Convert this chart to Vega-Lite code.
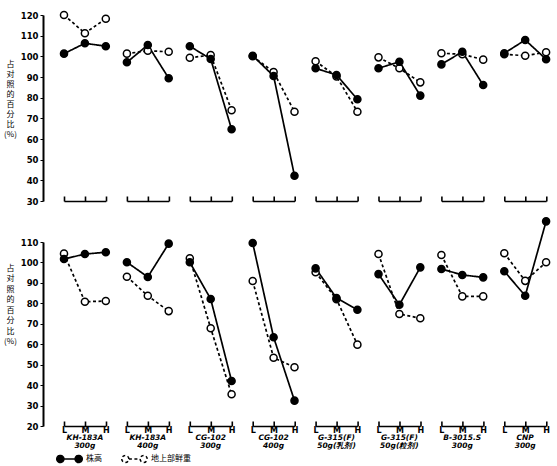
{
"$schema": "https://vega.github.io/schema/vega-lite/v6.json",
"padding": {"left": 3, "top": 8, "right": 0, "bottom": 0},
"background": "white",
"spacing": 8,
"config": {
  "view": {"stroke": null},
  "font": "DejaVu Sans",
  "axis": {"grid": false, "domainColor": "black", "tickColor": "black", "labelColor": "black", "titleColor": "black"},
  "legend": {"orient": "none", "legendX": -8, "legendY": 430, "direction": "horizontal", "title": null, "symbolType": "M-1,0 A0.28,0.28 0 1,0 -0.44,0 A0.28,0.28 0 1,0 -1,0 Z M-0.44,0 L0.44,0 M0.44,0 A0.28,0.28 0 1,0 1,0 A0.28,0.28 0 1,0 0.44,0 Z", "symbolSize": 650, "symbolStrokeColor": "black", "symbolStrokeWidth": 1.5, "labelFont": "Noto Sans CJK SC", "labelFontSize": 8, "columnPadding": 16, "labelOffset": 3}
},
"datasets": {
"top": [
{"g":"KH-183A|300g","lv":"L","s":"地上部鲜重","v":120},{"g":"KH-183A|300g","lv":"M","s":"地上部鲜重","v":111.2},{"g":"KH-183A|300g","lv":"H","s":"地上部鲜重","v":118.2},
{"g":"KH-183A|400g","lv":"L","s":"地上部鲜重","v":101.3},{"g":"KH-183A|400g","lv":"M","s":"地上部鲜重","v":102.7},{"g":"KH-183A|400g","lv":"H","s":"地上部鲜重","v":102.2},
{"g":"CG-102|300g","lv":"L","s":"地上部鲜重","v":99.3},{"g":"CG-102|300g","lv":"M","s":"地上部鲜重","v":100.6},{"g":"CG-102|300g","lv":"H","s":"地上部鲜重","v":73.9},
{"g":"CG-102|400g","lv":"L","s":"地上部鲜重","v":100},{"g":"CG-102|400g","lv":"M","s":"地上部鲜重","v":92.4},{"g":"CG-102|400g","lv":"H","s":"地上部鲜重","v":73.2},
{"g":"G-315(F)|50g(乳剂)","lv":"L","s":"地上部鲜重","v":97.6},{"g":"G-315(F)|50g(乳剂)","lv":"M","s":"地上部鲜重","v":90.3},{"g":"G-315(F)|50g(乳剂)","lv":"H","s":"地上部鲜重","v":73.2},
{"g":"G-315(F)|50g(粒剂)","lv":"L","s":"地上部鲜重","v":99.5},{"g":"G-315(F)|50g(粒剂)","lv":"M","s":"地上部鲜重","v":94.2},{"g":"G-315(F)|50g(粒剂)","lv":"H","s":"地上部鲜重","v":87.4},
{"g":"B-3015.S|300g","lv":"L","s":"地上部鲜重","v":101.5},{"g":"B-3015.S|300g","lv":"M","s":"地上部鲜重","v":101},{"g":"B-3015.S|300g","lv":"H","s":"地上部鲜重","v":98.4},
{"g":"CNP|300g","lv":"L","s":"地上部鲜重","v":101},{"g":"CNP|300g","lv":"M","s":"地上部鲜重","v":100.3},{"g":"CNP|300g","lv":"H","s":"地上部鲜重","v":102},
{"g":"KH-183A|300g","lv":"L","s":"株高","v":101.3},{"g":"KH-183A|300g","lv":"M","s":"株高","v":106.3},{"g":"KH-183A|300g","lv":"H","s":"株高","v":104.9},
{"g":"KH-183A|400g","lv":"L","s":"株高","v":97.1},{"g":"KH-183A|400g","lv":"M","s":"株高","v":105.5},{"g":"KH-183A|400g","lv":"H","s":"株高","v":89.4},
{"g":"CG-102|300g","lv":"L","s":"株高","v":104.9},{"g":"CG-102|300g","lv":"M","s":"株高","v":98.7},{"g":"CG-102|300g","lv":"H","s":"株高","v":64.7},
{"g":"CG-102|400g","lv":"L","s":"株高","v":100.3},{"g":"CG-102|400g","lv":"M","s":"株高","v":90.5},{"g":"CG-102|400g","lv":"H","s":"株高","v":42.2},
{"g":"G-315(F)|50g(乳剂)","lv":"L","s":"株高","v":94.2},{"g":"G-315(F)|50g(乳剂)","lv":"M","s":"株高","v":91.0},{"g":"G-315(F)|50g(乳剂)","lv":"H","s":"株高","v":79.2},
{"g":"G-315(F)|50g(粒剂)","lv":"L","s":"株高","v":94.2},{"g":"G-315(F)|50g(粒剂)","lv":"M","s":"株高","v":97.4},{"g":"G-315(F)|50g(粒剂)","lv":"H","s":"株高","v":81.0},
{"g":"B-3015.S|300g","lv":"L","s":"株高","v":96.1},{"g":"B-3015.S|300g","lv":"M","s":"株高","v":102.2},{"g":"B-3015.S|300g","lv":"H","s":"株高","v":86.1},
{"g":"CNP|300g","lv":"L","s":"株高","v":101.5},{"g":"CNP|300g","lv":"M","s":"株高","v":107.9},{"g":"CNP|300g","lv":"H","s":"株高","v":98.6}
],
"bottom": [
{"g":"KH-183A|300g","lv":"L","s":"地上部鲜重","v":104.3},{"g":"KH-183A|300g","lv":"M","s":"地上部鲜重","v":80.8},{"g":"KH-183A|300g","lv":"H","s":"地上部鲜重","v":81.1},
{"g":"KH-183A|400g","lv":"L","s":"地上部鲜重","v":93},{"g":"KH-183A|400g","lv":"M","s":"地上部鲜重","v":83.7},{"g":"KH-183A|400g","lv":"H","s":"地上部鲜重","v":76.2},
{"g":"CG-102|300g","lv":"L","s":"地上部鲜重","v":102},{"g":"CG-102|300g","lv":"M","s":"地上部鲜重","v":67.8},{"g":"CG-102|300g","lv":"H","s":"地上部鲜重","v":35.5},
{"g":"CG-102|400g","lv":"L","s":"地上部鲜重","v":90.9},{"g":"CG-102|400g","lv":"M","s":"地上部鲜重","v":53.4},{"g":"CG-102|400g","lv":"H","s":"地上部鲜重","v":48.7},
{"g":"G-315(F)|50g(乳剂)","lv":"L","s":"地上部鲜重","v":95.2},{"g":"G-315(F)|50g(乳剂)","lv":"M","s":"地上部鲜重","v":82},{"g":"G-315(F)|50g(乳剂)","lv":"H","s":"地上部鲜重","v":59.8},
{"g":"G-315(F)|50g(粒剂)","lv":"L","s":"地上部鲜重","v":104.1},{"g":"G-315(F)|50g(粒剂)","lv":"M","s":"地上部鲜重","v":74.8},{"g":"G-315(F)|50g(粒剂)","lv":"H","s":"地上部鲜重","v":72.7},
{"g":"B-3015.S|300g","lv":"L","s":"地上部鲜重","v":103.6},{"g":"B-3015.S|300g","lv":"M","s":"地上部鲜重","v":83.4},{"g":"B-3015.S|300g","lv":"H","s":"地上部鲜重","v":83.4},
{"g":"CNP|300g","lv":"L","s":"地上部鲜重","v":104.5},{"g":"CNP|300g","lv":"M","s":"地上部鲜重","v":91},{"g":"CNP|300g","lv":"H","s":"地上部鲜重","v":100.1},
{"g":"KH-183A|300g","lv":"L","s":"株高","v":101.7},{"g":"KH-183A|300g","lv":"M","s":"株高","v":104.1},{"g":"KH-183A|300g","lv":"H","s":"株高","v":105},
{"g":"KH-183A|400g","lv":"L","s":"株高","v":100.1},{"g":"KH-183A|400g","lv":"M","s":"株高","v":92.9},{"g":"KH-183A|400g","lv":"H","s":"株高","v":109.2},
{"g":"CG-102|300g","lv":"L","s":"株高","v":100.1},{"g":"CG-102|300g","lv":"M","s":"株高","v":82.1},{"g":"CG-102|300g","lv":"H","s":"株高","v":42},
{"g":"CG-102|400g","lv":"L","s":"株高","v":109.5},{"g":"CG-102|400g","lv":"M","s":"株高","v":63.4},{"g":"CG-102|400g","lv":"H","s":"株高","v":32.4},
{"g":"G-315(F)|50g(乳剂)","lv":"L","s":"株高","v":97.1},{"g":"G-315(F)|50g(乳剂)","lv":"M","s":"株高","v":82.6},{"g":"G-315(F)|50g(乳剂)","lv":"H","s":"株高","v":76.9},
{"g":"G-315(F)|50g(粒剂)","lv":"L","s":"株高","v":94.3},{"g":"G-315(F)|50g(粒剂)","lv":"M","s":"株高","v":79.3},{"g":"G-315(F)|50g(粒剂)","lv":"H","s":"株高","v":97.6},
{"g":"B-3015.S|300g","lv":"L","s":"株高","v":96.8},{"g":"B-3015.S|300g","lv":"M","s":"株高","v":93.9},{"g":"B-3015.S|300g","lv":"H","s":"株高","v":92.7},
{"g":"CNP|300g","lv":"L","s":"株高","v":95.7},{"g":"CNP|300g","lv":"M","s":"株高","v":83.7},{"g":"CNP|300g","lv":"H","s":"株高","v":120.1}
]
},
"vconcat": [
{
  "data": {"name": "top"},
  "bounds": "flush",
  "facet": {"column": {"field": "g", "type": "nominal", "sort": ["KH-183A|300g","KH-183A|400g","CG-102|300g","CG-102|400g","G-315(F)|50g(乳剂)","G-315(F)|50g(粒剂)","B-3015.S|300g","CNP|300g"], "title": null, "header": {"labels": false, "title": null}}},
  "spacing": 20.9,
  "spec": {
    "width": 41.8, "height": 186,
    "encoding": {
      "x": {"field": "lv", "type": "ordinal", "sort": ["L","M","H"], "scale": {"type": "point", "padding": 0}, "axis": {"title": null, "labels": false, "domainWidth": 1.6, "tickSize": -5, "tickWidth": 1.6}},
      "y": {"field": "v", "type": "quantitative", "scale": {"domain": [30, 120], "nice": false, "zero": false}, "axis": {"title": ["占","对","照","的","百","分","比","(%)"], "titleAngle": 0, "titleFontSize": 8, "titleFont": "Noto Sans CJK SC", "titleFontWeight": "normal", "titleLineHeight": 10, "titleX": -33, "titleY": 45, "titleBaseline": "top", "titleAlign": "center", "values": [30,40,50,60,70,80,90,100,110,120], "labelOverlap": false, "offset": 21, "domainWidth": 2, "tickSize": 3, "labelFontSize": 8.5, "labelFontWeight": "bold", "labelPadding": 2}}
    },
    "layer": [
      {"mark": {"type": "line", "color": "black", "strokeWidth": 1.7},
       "encoding": {
         "strokeDash": {"field": "s", "type": "nominal", "scale": {"domain": ["株高","地上部鲜重"], "range": [[1,0],[3,2.5]]}}
       }},
      {"mark": {"type": "point", "filled": true, "stroke": "black", "strokeWidth": 1.5, "size": 50, "opacity": 1},
       "encoding": {
         "fill": {"field": "s", "type": "nominal", "scale": {"domain": ["株高","地上部鲜重"], "range": ["black","white"]}}
       }}
    ]
  }
},
{
  "data": {"name": "bottom"},
  "bounds": "flush",
  "facet": {"column": {"field": "g", "type": "nominal", "sort": ["KH-183A|300g","KH-183A|400g","CG-102|300g","CG-102|400g","G-315(F)|50g(乳剂)","G-315(F)|50g(粒剂)","B-3015.S|300g","CNP|300g"], "title": null, "header": {"labelOrient": "bottom", "labelExpr": "split(datum.value, '|')", "labelFontSize": 7.5, "labelFontStyle": "italic", "labelFontWeight": "bold", "labelFont": "DejaVu Sans", "labelPadding": 0, "labelLineHeight": 8, "title": null}}},
  "spacing": 20.9,
  "spec": {
    "width": 41.8, "height": 184,
    "encoding": {
      "x": {"field": "lv", "type": "ordinal", "sort": ["L","M","H"], "scale": {"type": "point", "padding": 0}, "axis": {"title": null, "labels": true, "labelAngle": 0, "labelFontSize": 8, "labelFontWeight": "bold", "labelPadding": 5, "domainWidth": 1.6, "tickSize": -5, "tickWidth": 1.6}},
      "y": {"field": "v", "type": "quantitative", "scale": {"domain": [20, 110], "nice": false, "zero": false}, "axis": {"title": ["占","对","照","的","百","分","比","(%)"], "titleAngle": 0, "titleFontSize": 8, "titleFont": "Noto Sans CJK SC", "titleFontWeight": "normal", "titleLineHeight": 10.5, "titleX": -33, "titleY": 22, "titleBaseline": "top", "titleAlign": "center", "values": [20,30,40,50,60,70,80,90,100,110], "labelOverlap": false, "offset": 21, "domainWidth": 2, "tickSize": 3, "labelFontSize": 8.5, "labelFontWeight": "bold", "labelPadding": 2}}
    },
    "layer": [
      {"mark": {"type": "line", "color": "black", "strokeWidth": 1.7},
       "encoding": {
         "strokeDash": {"field": "s", "type": "nominal", "scale": {"domain": ["株高","地上部鲜重"], "range": [[1,0],[3,2.5]]}}
       }},
      {"mark": {"type": "point", "filled": true, "stroke": "black", "strokeWidth": 1.5, "size": 50, "opacity": 1},
       "encoding": {
         "fill": {"field": "s", "type": "nominal", "scale": {"domain": ["株高","地上部鲜重"], "range": ["black","white"]}}
       }}
    ]
  }
}
]
}
